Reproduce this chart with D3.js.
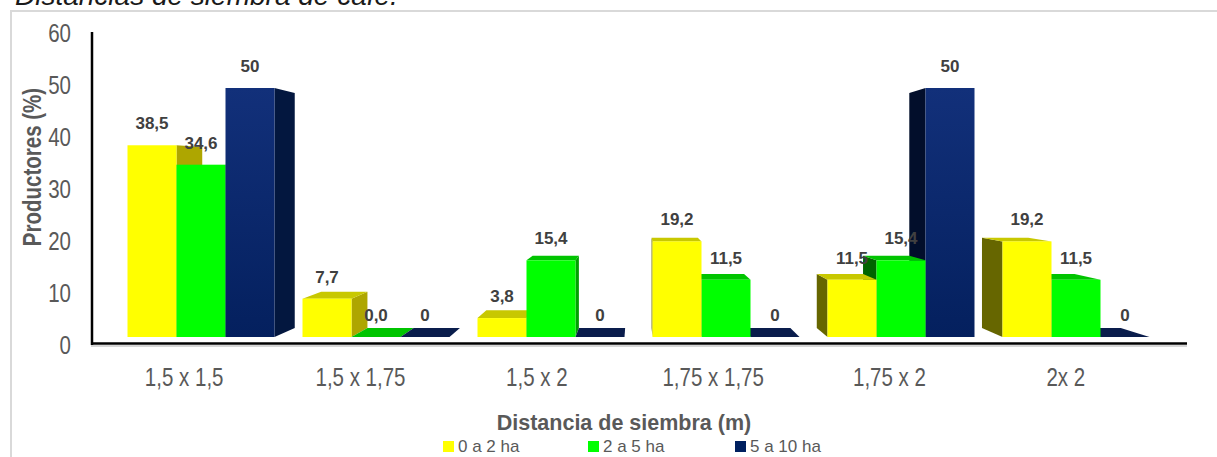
<!DOCTYPE html>
<html lang="es">
<head>
<meta charset="utf-8">
<title>Distancias de siembra</title>
<script src="https://cdn.jsdelivr.net/npm/d3@7"></script>
<style>
  html, body { margin: 0; padding: 0; background: #ffffff; }
  svg { display: block; font-family: "Liberation Sans", Arial, sans-serif; }
</style>
</head>
<body>
<svg id="chart" width="1217" height="457"></svg>
<script>
// Planting distance categories and share of producers (%) per farm size
const categories = ["1,5 x 1,5", "1,5 x 1,75", "1,5 x 2", "1,75 x 1,75", "1,75 x 2", "2x 2"];
const seriesNames = ["0 a 2 ha", "2 a 5 ha", "5 a 10 ha"];
const small  = [38.5, 7.7, 3.8, 19.2, 11.5, 19.2];
const medium = [34.6, 0.0, 15.4, 11.5, 15.4, 11.5];
const large  = [50, 0, 0, 0, 50, 0];
const seriesDecimals = [1, 1, 0];
const yTicks = [0, 10, 20, 30, 40, 50, 60];

// Face colours per series: front, top, side facing right, side facing left
const palette = [
  { front: "#ffff00", top: "#c8c800", sideR: "#aea600", sideL: "#666600" },
  { front: "#00ff00", top: "#00c400", sideR: "#00a000", sideL: "#006400" },
  { front: "url(#navyGrad)", top: "#0a1d4c", sideR: "#03173f", sideL: "#020e2b", swatch: "#002060" }
];

const values = [small, medium, large];
const svg = d3.select("#chart");
const es = d3.formatLocale({ decimal: ",", thousands: ".", grouping: [3], currency: ["", ""] });

// Horizontally condensed text (narrow face look)
const NARROW = 0.82;
function narrow(sel, extra) {
  sel.each(function () {
    const t = d3.select(this);
    const x = +t.attr("x") || 0;
    t.attr("x", x / NARROW).attr("transform", (extra || "") + ` scale(${NARROW},1)`);
  });
}

const defs = svg.append("defs");
const grad = defs.append("linearGradient").attr("id", "navyGrad")
  .attr("x1", 0).attr("y1", 0).attr("x2", 0).attr("y2", 1);
grad.append("stop").attr("offset", "0%").attr("stop-color", "#12307a");
grad.append("stop").attr("offset", "100%").attr("stop-color", "#04205e");

// Chart area frame
svg.append("rect").attr("x", 11).attr("y", 11).attr("width", 1300).attr("height", 500)
  .attr("fill", "none").attr("stroke", "#d9d9d9").attr("stroke-width", 2);

// Caption running above the frame
svg.append("text").attr("x", 15).attr("y", 5)
  .attr("font-size", 28).attr("font-style", "italic").attr("fill", "#1a1a1a")
  .text("Distancias de siembra de café.");

// Scales: axis plane (front) and bar plane
const yAxisScale = d3.scaleLinear().domain([0, 60]).range([345, 33]);
const yBar = d3.scaleLinear().domain([0, 50]).range([337, 88]);
const xLabel = d3.scaleBand().domain(categories).range([96, 1154]);
const xGroup = d3.scaleBand().domain(categories).range([113.5, 1163.5])
  .paddingInner(0.16).paddingOuter(0.08);
const xSeries = d3.scaleBand().domain(d3.range(seriesNames.length)).range([0, xGroup.bandwidth()]);

// Depth projection: back face shrinks toward a vanishing point
const VX = 636, VY = 177, S = 0.944;
const px = x => VX + S * (x - VX);
const py = y => VY + S * (y - VY);

const bars = [];
categories.forEach((c, ci) => {
  values.forEach((arr, si) => {
    const x0 = xGroup(c) + xSeries(si);
    const x1 = x0 + xSeries.bandwidth();
    bars.push({ ci, si, v: arr[ci], x0, x1, yt: yBar(arr[ci]), yb: yBar(0) });
  });
});
const leftBars = bars.filter(b => (b.x0 + b.x1) / 2 < VX).sort((a, b) => a.x0 - b.x0);
const rightBars = bars.filter(b => (b.x0 + b.x1) / 2 >= VX).sort((a, b) => b.x0 - a.x0);
const ordered = leftBars.concat(rightBars);

const gBars = svg.append("g");
const poly = pts => pts.map(p => p.join(",")).join(" ");
ordered.forEach(b => {
  const col = palette[b.si];
  const g = gBars.append("g");
  const bx0 = px(b.x0), bx1 = px(b.x1), byt = py(b.yt), byb = py(b.yb);
  if (b.x1 < VX) {
    g.append("polygon").attr("fill", col.sideR)
      .attr("points", poly([[b.x1, b.yt], [bx1, byt], [bx1, byb], [b.x1, b.yb]]));
  } else if (b.x0 > VX) {
    g.append("polygon").attr("fill", col.sideL)
      .attr("points", poly([[b.x0, b.yt], [bx0, byt], [bx0, byb], [b.x0, b.yb]]));
  }
  if (b.yt > VY) {
    g.append("polygon").attr("fill", col.top)
      .attr("points", poly([[b.x0, b.yt], [b.x1, b.yt], [bx1, byt], [bx0, byt]]));
  }
  if (b.yb - b.yt > 0) {
    g.append("rect").attr("x", b.x0).attr("y", b.yt)
      .attr("width", b.x1 - b.x0).attr("height", b.yb - b.yt).attr("fill", col.front);
  }
});

// Value labels
svg.append("g").selectAll("text").data(bars).join("text")
  .attr("x", b => (b.x0 + b.x1) / 2)
  .attr("y", b => b.yt - 16)
  .attr("text-anchor", "middle")
  .attr("font-size", 17).attr("font-weight", "bold").attr("fill", "#404040")
  .text(b => es.format("." + seriesDecimals[b.si] + "f")(b.v));

// Y axis
const yAxis = svg.append("g").attr("transform", "translate(92,0)")
  .call(d3.axisLeft(yAxisScale).tickValues(yTicks).tickSize(0).tickPadding(21));
yAxis.select(".domain").remove();
yAxis.selectAll("text").attr("font-size", 25).attr("fill", "#595959")
  .attr("font-family", "Liberation Sans, Arial, sans-serif").call(narrow);
svg.append("line").attr("x1", 92).attr("x2", 92).attr("y1", 32).attr("y2", 345)
  .attr("stroke", "#000").attr("stroke-width", 2.5);

// X axis
const xAxis = svg.append("g").attr("transform", "translate(0,345)")
  .call(d3.axisBottom(xLabel).tickSize(0).tickPadding(23));
xAxis.select(".domain").remove();
xAxis.selectAll("text").attr("font-size", 25).attr("fill", "#595959")
  .attr("font-family", "Liberation Sans, Arial, sans-serif").call(narrow);
svg.append("line").attr("x1", 91).attr("x2", 1187).attr("y1", 346).attr("y2", 346)
  .attr("stroke", "#c8c8c8").attr("stroke-width", 1.5);
svg.append("line").attr("x1", 91).attr("x2", 1187).attr("y1", 343.5).attr("y2", 343.5)
  .attr("stroke", "#000").attr("stroke-width", 2.5);

// Axis titles
svg.append("text")
  .attr("text-anchor", "middle").attr("font-size", 25).attr("font-weight", "bold")
  .attr("fill", "#595959").text("Productores (%)")
  .call(narrow, "translate(41,167) rotate(-90)");
svg.append("text").attr("x", 624).attr("y", 430)
  .attr("text-anchor", "middle").attr("font-size", 21.5).attr("font-weight", "bold")
  .attr("fill", "#595959").text("Distancia de siembra (m)");

// Legend
const legendX = [443, 588, 735];
const legend = svg.append("g").selectAll("g").data(seriesNames).join("g")
  .attr("transform", (d, i) => `translate(${legendX[i]},0)`);
legend.append("rect").attr("x", 0).attr("y", 441).attr("width", 11).attr("height", 11)
  .attr("fill", (d, i) => palette[i].swatch || palette[i].front);
legend.append("text").attr("x", 15).attr("y", 452)
  .attr("font-size", 17).attr("fill", "#595959").text(d => d);
</script>
</body>
</html>
